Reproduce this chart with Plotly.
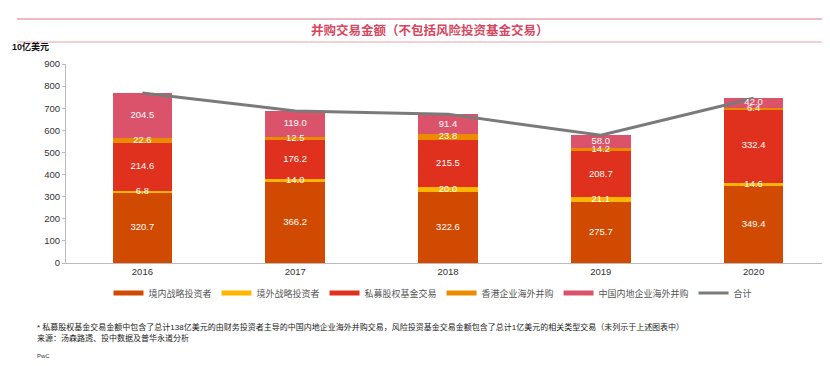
import plotly.graph_objects as go

years = ["2016", "2017", "2018", "2019", "2020"]
domestic_strategic = [320.7, 366.2, 322.6, 275.7, 349.4]
foreign_strategic = [6.8, 14.0, 20.0, 21.1, 14.6]
private_equity = [214.6, 176.2, 215.5, 208.7, 332.4]
hk_outbound = [22.6, 12.5, 23.8, 14.2, 6.4]
mainland_outbound = [204.5, 119.0, 91.4, 58.0, 42.0]
totals = [769.2, 687.9, 673.3, 577.7, 744.8]
y_ticks = [0, 100, 200, 300, 400, 500, 600, 700, 800, 900]

series = [
    ("境内战略投资者", domestic_strategic, "#D04A02"),
    ("境外战略投资者", foreign_strategic, "#FFB600"),
    ("私募股权基金交易", private_equity, "#E0301E"),
    ("香港企业海外并购", hk_outbound, "#EB8C00"),
    ("中国内地企业海外并购", mainland_outbound, "#DB536A"),
]

FONT = "Arial, Liberation Sans, Noto Sans CJK SC, sans-serif"
xs = list(range(len(years)))

# page has an 8px body margin; plot area in page pixels: x 66..830, y 64..263
PL, PR, PT, PB = 66, 830, 64, 263
def px(xp):
    return (xp - PL) / (PR - PL)
def py(yp):
    return (PB - yp) / (PB - PT)

fig = go.Figure()
base = [0.0] * len(xs)
label_x, label_y, label_t = [], [], []
for name, vals, color in series:
    fig.add_trace(go.Bar(
        x=xs, y=vals, name=name, marker=dict(color=color, line=dict(width=0)),
        width=0.39, showlegend=False, legendgroup=name, hoverinfo="y+name",
    ))
    for i, v in enumerate(vals):
        label_x.append(xs[i])
        label_y.append(base[i] + v / 2)
        label_t.append(f"{v:.1f}")
        base[i] += v
    # legend proxy with a wide, short swatch
    fig.add_trace(go.Scatter(
        x=[None], y=[None], mode="lines", name=name, legendgroup=name,
        line=dict(color=color, width=5),
    ))

fig.add_trace(go.Scatter(
    x=xs, y=totals, name="合计", mode="lines",
    line=dict(color="#7A7A7A", width=3),
))
fig.add_trace(go.Scatter(
    x=label_x, y=label_y, text=label_t, mode="text", showlegend=False,
    textposition="middle center", hoverinfo="skip",
    textfont=dict(color="white", size=9.5, family=FONT), cliponaxis=False,
))

fig.update_layout(
    width=822, height=358,
    margin=dict(l=PL - 8, r=0, t=PT - 8, b=358 - (PB - 8)),
    barmode="stack",
    plot_bgcolor="white", paper_bgcolor="white",
    font=dict(family=FONT, size=9, color="#333333"),
    showlegend=True,
    legend=dict(orientation="h", x=px(433), xanchor="center", y=py(293), yanchor="middle",
                font=dict(size=9, color="#555555"), traceorder="normal",
                itemwidth=30, tracegroupgap=0),
    xaxis=dict(range=[-0.5, 4.5], tickmode="array", tickvals=xs, ticktext=years,
               showline=True, linecolor="#BBBBBB", linewidth=1, ticks="",
               showgrid=False, zeroline=False, tickfont=dict(size=9.5, color="#333333")),
    yaxis=dict(range=[0, 900], tickmode="array", tickvals=y_ticks,
               showline=True, linecolor="#BBBBBB", linewidth=1, ticks="outside",
               ticklen=3, tickcolor="#BBBBBB", showgrid=False, zeroline=False,
               tickfont=dict(size=9.5, color="#333333")),
    shapes=[
        dict(type="line", xref="paper", yref="paper", x0=px(17), x1=px(830),
             y0=py(19), y1=py(19), line=dict(color="#E07585", width=1.2)),
        dict(type="line", xref="paper", yref="paper", x0=px(17), x1=px(830),
             y0=py(42), y1=py(42), line=dict(color="#E8A0AA", width=1)),
    ],
    annotations=[
        dict(text="<b>并购交易金额（不包括风险投资基金交易）</b>", xref="paper", yref="paper",
             x=px(430), y=py(30.5), xanchor="center", yanchor="middle",
             showarrow=False, font=dict(size=12.5, color="#D6475F", family=FONT)),
        dict(text="<b>10亿美元</b>", xref="paper", yref="paper",
             x=px(10), y=py(47), xanchor="left", yanchor="middle",
             showarrow=False, font=dict(size=9, color="#111111", family=FONT)),
        dict(text="* 私募股权基金交易金额中包含了总计138亿美元的由财务投资者主导的中国内地企业海外并购交易，风险投资基金交易金额包含了总计1亿美元的相关类型交易（未列示于上述图表中）",
             xref="paper", yref="paper", x=px(35), y=py(327), xanchor="left", yanchor="middle",
             showarrow=False, font=dict(size=8, color="#222222", family=FONT)),
        dict(text="来源：汤森路透、投中数据及普华永道分析",
             xref="paper", yref="paper", x=px(35), y=py(338), xanchor="left", yanchor="middle",
             showarrow=False, font=dict(size=8, color="#222222", family=FONT)),
        dict(text="PwC",
             xref="paper", yref="paper", x=px(35), y=py(356), xanchor="left", yanchor="middle",
             showarrow=False, font=dict(size=6, color="#333333", family=FONT)),
    ],
)

fig.write_html("out.html")
